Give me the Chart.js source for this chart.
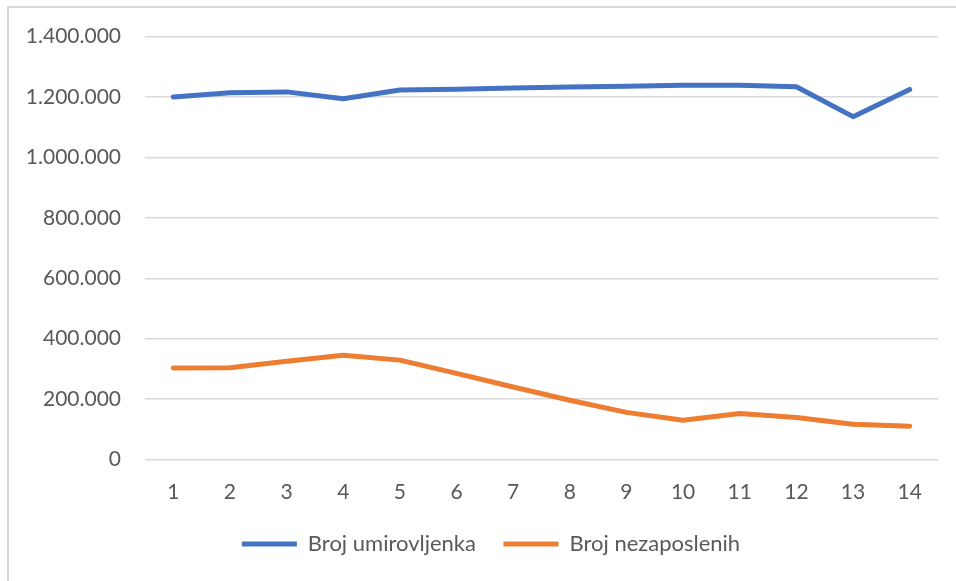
<!DOCTYPE html>
<html>
<head>
<meta charset="utf-8">
<script src="https://cdn.jsdelivr.net/npm/chart.js@4.4.1/dist/chart.umd.min.js"></script>
<style>
  html, body { margin: 0; padding: 0; background: #fff; overflow: hidden; }
  #wrap { position: relative; width: 956px; height: 581px; }
  #frame { position: absolute; left: 7px; top: 6px; width: 1000px; height: 700px; border: 2px solid #d9d9d9; box-sizing: border-box; }
  #chart { position: absolute; left: 0; top: 0; }
</style>
</head>
<body>
<div id="wrap">
  <div id="frame"></div>
  <canvas id="chart" width="956" height="581"></canvas>
</div>
<script>
// podaci
const categories = ["1", "2", "3", "4", "5", "6", "7", "8", "9", "10", "11", "12", "13", "14"];
const umirovljenici = [1200000, 1214000, 1217000, 1194000, 1223000, 1226000, 1230000, 1233000, 1236000, 1239000, 1239000, 1234000, 1135000, 1225000];
const nezaposleni = [303000, 304000, 325000, 345000, 329000, 285000, 240000, 196000, 156000, 130000, 152000, 139000, 117000, 110000];
const yMin = 0, yMax = 1400000, yStep = 200000;

const textColor = "#595959";
const fontFamily = "Lato, 'Open Sans', sans-serif";

function formatBroj(v) {
  return String(v).replace(/\B(?=(\d{3})+(?!\d))/g, ".");
}

// legenda je u originalu malo desno od sredine
const legendShift = {
  id: "legendShift",
  afterLayout(chart) {
    if (chart.legend) {
      chart.legend.left += 22;
      chart.legend.right += 22;
    }
  },
};

const ctx = document.getElementById("chart").getContext("2d");
new Chart(ctx, {
  type: "line",
  data: {
    labels: categories,
    datasets: [
      {
        label: "Broj umirovljenka",
        data: umirovljenici,
        borderColor: "#4472C4",
        backgroundColor: "#4472C4",
        borderWidth: 5,
        borderCapStyle: "round",
        borderJoinStyle: "round",
        pointRadius: 0,
        tension: 0,
      },
      {
        label: "Broj nezaposlenih",
        data: nezaposleni,
        borderColor: "#ED7D31",
        backgroundColor: "#ED7D31",
        borderWidth: 5,
        borderCapStyle: "round",
        borderJoinStyle: "round",
        pointRadius: 0,
        tension: 0,
      },
    ],
  },
  options: {
    responsive: false,
    animation: false,
    devicePixelRatio: 1,
    layout: { padding: { left: 0, right: 18, top: 35, bottom: 16 } },
    plugins: {
      tooltip: { enabled: false },
      legend: {
        position: "bottom",
        labels: {
          color: textColor,
          font: { family: fontFamily, size: 22 },
          usePointStyle: true,
          pointStyle: "line",
          pointStyleWidth: 55,
          padding: 27.5,
        },
      },
    },
    scales: {
      x: {
        offset: true,
        grid: { display: false, drawTicks: false },
        border: { display: false },
        ticks: { color: textColor, font: { family: fontFamily, size: 21 }, padding: 20 },
        afterFit: (scale) => { scale.height = 46; },
      },
      y: {
        min: yMin,
        max: yMax,
        grid: { color: "#d9d9d9", lineWidth: 1.5, drawTicks: false },
        border: { display: false },
        ticks: {
          stepSize: yStep,
          color: textColor,
          font: { family: fontFamily, size: 21 },
          padding: 24,
          callback: (v) => formatBroj(v),
        },
        afterFit: (scale) => { scale.width = 145; },
      },
    },
  },
  plugins: [legendShift],
});
</script>
</body>
</html>
